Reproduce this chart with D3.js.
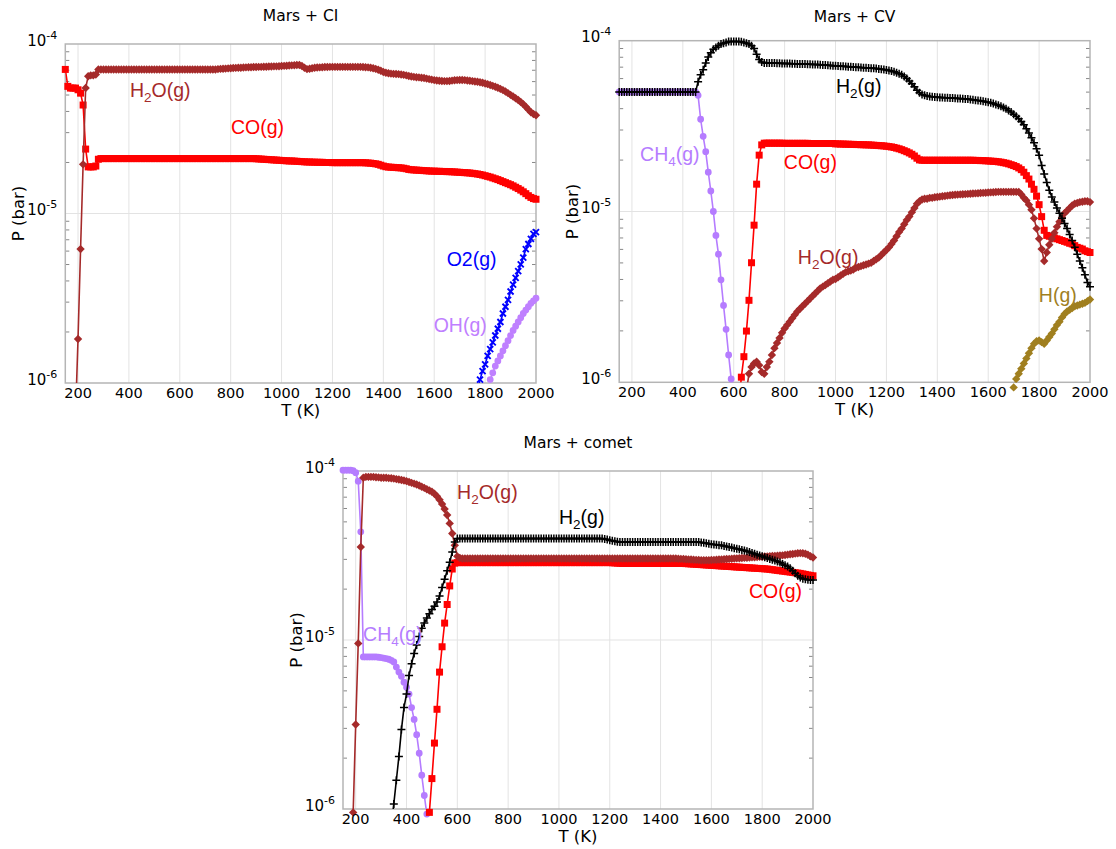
<!DOCTYPE html>
<html>
<head>
<meta charset="utf-8">
<script src="https://cdn.jsdelivr.net/npm/d3@7"></script>
<style>
    body { margin: 0; background: #fff; }
    svg { display: block; }
</style>
</head>
<body>
<div id="chart"></div>
<script>
// temperature grid (K)
var temps = [150, 160, 170, 180, 190,
    200, 210, 220, 230, 240, 250, 260, 270, 280, 290,
    300, 310, 320, 330, 340, 350, 360, 370, 380, 390,
    400, 410, 420, 430, 440, 450, 460, 470, 480, 490,
    500, 510, 520, 530, 540, 550, 560, 570, 580, 590,
    600, 610, 620, 630, 640, 650, 660, 670, 680, 690,
    700, 710, 720, 730, 740, 750, 760, 770, 780, 790,
    800, 810, 820, 830, 840, 850, 860, 870, 880, 890,
    900, 910, 920, 930, 940, 950, 960, 970, 980, 990,
    1000, 1010, 1020, 1030, 1040, 1050, 1060, 1070, 1080, 1090,
    1100, 1110, 1120, 1130, 1140, 1150, 1160, 1170, 1180, 1190,
    1200, 1210, 1220, 1230, 1240, 1250, 1260, 1270, 1280, 1290,
    1300, 1310, 1320, 1330, 1340, 1350, 1360, 1370, 1380, 1390,
    1400, 1410, 1420, 1430, 1440, 1450, 1460, 1470, 1480, 1490,
    1500, 1510, 1520, 1530, 1540, 1550, 1560, 1570, 1580, 1590,
    1600, 1610, 1620, 1630, 1640, 1650, 1660, 1670, 1680, 1690,
    1700, 1710, 1720, 1730, 1740, 1750, 1760, 1770, 1780, 1790,
    1800, 1810, 1820, 1830, 1840, 1850, 1860, 1870, 1880, 1890,
    1900, 1910, 1920, 1930, 1940, 1950, 1960, 1970, 1980, 1990,
    2000];

var xTicks = [200, 400, 600, 800, 1000, 1200, 1400, 1600, 1800, 2000];
var yTicks = [1e-6, 1e-5, 1e-4];
var yTickExp = ["-6", "-5", "-4"];

// all series are log10 P (bar), one value every 10 K from the start temperature

// ---- Mars + CI ----
var ciCOStart = 150;
var ciCO = [-4.15, -4.25, -4.26, -4.26, -4.26,
    -4.27, -4.29, -4.36, -4.62, -4.725, -4.725, -4.725, -4.72, -4.68, -4.676,
    -4.676, -4.676, -4.676, -4.676, -4.676, -4.676, -4.676, -4.676, -4.676, -4.676,
    -4.676, -4.676, -4.676, -4.676, -4.676, -4.676, -4.676, -4.676, -4.676, -4.676,
    -4.676, -4.676, -4.676, -4.676, -4.676, -4.676, -4.676, -4.676, -4.676, -4.676,
    -4.676, -4.676, -4.676, -4.676, -4.676, -4.676, -4.676, -4.676, -4.676, -4.676,
    -4.676, -4.676, -4.676, -4.676, -4.676, -4.676, -4.676, -4.676, -4.676, -4.676,
    -4.676, -4.676, -4.676, -4.676, -4.676, -4.676, -4.676, -4.676, -4.676, -4.676,
    -4.677, -4.678, -4.679, -4.68, -4.681, -4.682, -4.683, -4.684, -4.685, -4.686,
    -4.687, -4.688, -4.689, -4.69, -4.69, -4.691, -4.692, -4.693, -4.694, -4.695,
    -4.696, -4.696, -4.697, -4.697, -4.698, -4.698, -4.698, -4.699, -4.699, -4.699,
    -4.7, -4.7, -4.7, -4.7, -4.7, -4.7, -4.7, -4.7, -4.7, -4.7,
    -4.7, -4.7, -4.7, -4.701, -4.702, -4.703, -4.705, -4.707, -4.71, -4.715,
    -4.72, -4.724, -4.726, -4.727, -4.728, -4.729, -4.73, -4.731, -4.733, -4.736,
    -4.74, -4.742, -4.743, -4.744, -4.745, -4.746, -4.747, -4.748, -4.749, -4.75,
    -4.75, -4.751, -4.751, -4.752, -4.752, -4.753, -4.753, -4.754, -4.755, -4.756,
    -4.757, -4.758, -4.759, -4.76, -4.761, -4.763, -4.765, -4.767, -4.77, -4.773,
    -4.777, -4.781, -4.785, -4.79, -4.795, -4.8, -4.806, -4.812, -4.818, -4.824,
    -4.83, -4.837, -4.845, -4.853, -4.862, -4.872, -4.883, -4.895, -4.905, -4.912,
    -4.916];

var ciH2OStart = 190;
var ciH2O = [-6.2,
    -5.74, -5.21, -4.71, -4.26, -4.19, -4.185, -4.185, -4.18, -4.15, -4.15,
    -4.15, -4.15, -4.15, -4.15, -4.15, -4.15, -4.15, -4.15, -4.15, -4.15,
    -4.15, -4.15, -4.15, -4.15, -4.15, -4.15, -4.15, -4.15, -4.15, -4.15,
    -4.15, -4.15, -4.15, -4.15, -4.15, -4.15, -4.15, -4.15, -4.15, -4.15,
    -4.15, -4.15, -4.15, -4.15, -4.15, -4.15, -4.15, -4.15, -4.15, -4.15,
    -4.15, -4.15, -4.15, -4.15, -4.15, -4.148, -4.147, -4.146, -4.145, -4.144,
    -4.143, -4.142, -4.141, -4.14, -4.14, -4.139, -4.138, -4.137, -4.137, -4.136,
    -4.136, -4.135, -4.135, -4.134, -4.134, -4.133, -4.133, -4.132, -4.132, -4.131,
    -4.13, -4.129, -4.128, -4.127, -4.126, -4.125, -4.124, -4.124, -4.13, -4.14,
    -4.148, -4.146, -4.143, -4.14, -4.139, -4.138, -4.137, -4.136, -4.136, -4.135,
    -4.135, -4.135, -4.135, -4.135, -4.135, -4.135, -4.135, -4.135, -4.135, -4.135,
    -4.135, -4.135, -4.136, -4.137, -4.138, -4.14, -4.143, -4.147, -4.152, -4.158,
    -4.165, -4.17, -4.173, -4.175, -4.176, -4.177, -4.178, -4.18, -4.182, -4.185,
    -4.189, -4.192, -4.194, -4.196, -4.197, -4.199, -4.201, -4.204, -4.207, -4.21,
    -4.213, -4.215, -4.217, -4.218, -4.219, -4.219, -4.218, -4.216, -4.214, -4.213,
    -4.212, -4.212, -4.213, -4.215, -4.217, -4.219, -4.221, -4.223, -4.226, -4.229,
    -4.233, -4.237, -4.242, -4.247, -4.252, -4.258, -4.265, -4.272, -4.28, -4.29,
    -4.3, -4.31, -4.32, -4.33, -4.342, -4.355, -4.37, -4.387, -4.403, -4.413,
    -4.42];

var ciO2Start = 1770;
var ciO2 = [-6.05, -5.98, -5.93, -5.89, -5.84, -5.8, -5.76, -5.72, -5.68, -5.64,
    -5.59, -5.55, -5.51, -5.46, -5.42, -5.38, -5.34, -5.3, -5.26, -5.21,
    -5.18, -5.15, -5.12, -5.11];

var ciOHStart = 1820;
var ciOH = [-5.98, -5.94, -5.9, -5.87, -5.84, -5.81, -5.78, -5.75, -5.72, -5.69,
    -5.665, -5.64, -5.615, -5.59, -5.57, -5.55, -5.53, -5.515, -5.5];

// ---- Mars + CV ----
var cvCH4Start = 150;
var cvCH4 = [-4.3, -4.3, -4.3, -4.3, -4.3,
    -4.3, -4.3, -4.3, -4.3, -4.3, -4.3, -4.3, -4.3, -4.3, -4.3,
    -4.3, -4.3, -4.3, -4.3, -4.3, -4.3, -4.3, -4.3, -4.3, -4.3,
    -4.3, -4.3, -4.3, -4.3, -4.3, -4.3, -4.32, -4.46, -4.56, -4.65,
    -4.77, -4.88, -5.0, -5.14, -5.25, -5.4, -5.55, -5.69, -5.84, -5.98,
    -6.12];

var cvCOStart = 620;
var cvCO = [-6.13, -5.97, -5.85, -5.7, -5.52, -5.3, -5.08, -4.84,
    -4.67, -4.61, -4.6, -4.6, -4.6, -4.6, -4.6, -4.6, -4.6, -4.6,
    -4.601, -4.601, -4.601, -4.601, -4.601, -4.601, -4.601, -4.601, -4.601, -4.601,
    -4.602, -4.602, -4.602, -4.602, -4.602, -4.602, -4.602, -4.602, -4.602, -4.602,
    -4.604, -4.604, -4.605, -4.605, -4.606, -4.606, -4.607, -4.607, -4.608, -4.608,
    -4.609, -4.609, -4.61, -4.61, -4.611, -4.612, -4.613, -4.614, -4.615, -4.616,
    -4.618, -4.62, -4.622, -4.625, -4.629, -4.633, -4.638, -4.644, -4.65, -4.657,
    -4.665, -4.675, -4.688, -4.698, -4.7, -4.7, -4.7, -4.7, -4.7, -4.7,
    -4.7, -4.7, -4.7, -4.7, -4.7, -4.7, -4.7, -4.7, -4.7, -4.7,
    -4.7, -4.7, -4.7, -4.7, -4.7, -4.701, -4.701, -4.702, -4.702, -4.703,
    -4.704, -4.705, -4.706, -4.707, -4.709, -4.711, -4.714, -4.717, -4.721, -4.726,
    -4.731, -4.737, -4.745, -4.755, -4.77, -4.79, -4.81, -4.84, -4.87, -4.91,
    -4.96, -5.03, -5.11, -5.14, -5.145, -5.15, -5.155, -5.16, -5.165, -5.17,
    -5.175, -5.18, -5.186, -5.19, -5.2, -5.21, -5.215, -5.22, -5.23, -5.235,
    -5.24];

var cvH2OStart = 650;
var cvH2O = [-6.05, -5.95, -5.91, -5.89, -5.88,
    -5.9, -5.94, -5.95, -5.91, -5.88, -5.84, -5.8, -5.77, -5.74, -5.71,
    -5.685, -5.665, -5.645, -5.625, -5.605, -5.585, -5.57, -5.555, -5.54, -5.525,
    -5.51, -5.495, -5.48, -5.465, -5.45, -5.44, -5.43, -5.42, -5.41, -5.4,
    -5.395, -5.385, -5.375, -5.365, -5.355, -5.35, -5.345, -5.34, -5.33, -5.325,
    -5.32, -5.315, -5.31, -5.305, -5.3, -5.29, -5.28, -5.27, -5.255, -5.24,
    -5.225, -5.21, -5.19, -5.17, -5.145, -5.12, -5.1, -5.075, -5.05, -5.03,
    -5.005, -4.98, -4.955, -4.94, -4.93, -4.925, -4.925, -4.92, -4.92, -4.917,
    -4.915, -4.913, -4.911, -4.909, -4.907, -4.905, -4.903, -4.902, -4.901, -4.9,
    -4.899, -4.898, -4.897, -4.896, -4.895, -4.894, -4.893, -4.892, -4.891, -4.89,
    -4.889, -4.888, -4.887, -4.886, -4.885, -4.885, -4.885, -4.885, -4.885, -4.885,
    -4.885, -4.885, -4.885, -4.9, -4.92, -4.935, -4.96, -4.99, -5.04, -5.1,
    -5.16, -5.22, -5.29, -5.24, -5.195, -5.16, -5.125, -5.09, -5.06, -5.035,
    -5.01, -4.995, -4.98, -4.965, -4.955, -4.95, -4.945, -4.943, -4.94, -4.94,
    -4.945];

var cvH2Start = 150;
var cvH2 = [-4.3, -4.3, -4.3, -4.3, -4.3,
    -4.3, -4.3, -4.3, -4.3, -4.3, -4.3, -4.3, -4.3, -4.3, -4.3,
    -4.3, -4.3, -4.3, -4.3, -4.3, -4.3, -4.3, -4.3, -4.3, -4.3,
    -4.3, -4.3, -4.3, -4.3, -4.3, -4.3, -4.24, -4.2, -4.17, -4.13,
    -4.095, -4.07, -4.05, -4.04, -4.03, -4.02, -4.015, -4.01, -4.005, -4.005,
    -4.004, -4.004, -4.005, -4.006, -4.01, -4.015, -4.02, -4.03, -4.045, -4.08,
    -4.11, -4.125, -4.13, -4.13, -4.13, -4.131, -4.131, -4.132, -4.132, -4.133,
    -4.133, -4.134, -4.134, -4.135, -4.135, -4.136, -4.136, -4.137, -4.137, -4.138,
    -4.138, -4.139, -4.139, -4.14, -4.141, -4.142, -4.143, -4.144, -4.145, -4.146,
    -4.147, -4.148, -4.149, -4.15, -4.151, -4.152, -4.153, -4.154, -4.155, -4.156,
    -4.157, -4.158, -4.159, -4.16, -4.161, -4.162, -4.163, -4.165, -4.167, -4.169,
    -4.172, -4.175, -4.178, -4.182, -4.187, -4.193, -4.2, -4.21, -4.222, -4.236,
    -4.252, -4.27, -4.29, -4.305, -4.315, -4.32, -4.324, -4.326, -4.328, -4.33,
    -4.331, -4.332, -4.333, -4.334, -4.334, -4.335, -4.336, -4.337, -4.338, -4.339,
    -4.34, -4.341, -4.342, -4.344, -4.346, -4.348, -4.35, -4.352, -4.354, -4.357,
    -4.36, -4.364, -4.368, -4.373, -4.378, -4.384, -4.391, -4.399, -4.408, -4.418,
    -4.43, -4.443, -4.457, -4.473, -4.492, -4.515, -4.54, -4.568, -4.598, -4.632,
    -4.67, -4.73, -4.78, -4.83, -4.875, -4.915, -4.945, -4.98, -5.01, -5.04,
    -5.07, -5.1, -5.135, -5.17, -5.21, -5.25, -5.29, -5.33, -5.37, -5.415,
    -5.44];

var cvHStart = 1700;
var cvH = [-6.03, -5.98, -5.95, -5.92, -5.89, -5.86, -5.83, -5.8, -5.775, -5.76,
    -5.755, -5.765, -5.775, -5.755, -5.735, -5.715, -5.69, -5.665, -5.645, -5.62,
    -5.6, -5.585, -5.575, -5.565, -5.555, -5.55, -5.545, -5.54, -5.535, -5.525,
    -5.515];

// ---- Mars + comet ----
var coCH4Start = 150;
var coCH4 = [-3.995, -3.995, -3.995, -3.995, -3.998,
    -4.01, -4.06, -4.36, -5.1, -5.1, -5.1, -5.1, -5.1, -5.1, -5.102,
    -5.104, -5.107, -5.11, -5.114, -5.12, -5.13, -5.16, -5.19, -5.215, -5.25,
    -5.28, -5.32, -5.4, -5.47, -5.56, -5.67, -5.8, -5.92, -6.03];

var coCOStart = 480;
var coCO = [-6.2, -6.02,
    -5.82, -5.61, -5.41, -5.19, -5.04, -4.9, -4.79, -4.68, -4.58, -4.545,
    -4.542, -4.542, -4.542, -4.542, -4.542, -4.542, -4.542, -4.542, -4.542, -4.542,
    -4.542, -4.542, -4.542, -4.542, -4.542, -4.542, -4.542, -4.542, -4.542, -4.542,
    -4.542, -4.542, -4.542, -4.542, -4.542, -4.542, -4.542, -4.542, -4.542, -4.542,
    -4.542, -4.542, -4.542, -4.542, -4.542, -4.542, -4.542, -4.542, -4.542, -4.542,
    -4.542, -4.542, -4.542, -4.542, -4.542, -4.542, -4.542, -4.542, -4.542, -4.542,
    -4.542, -4.542, -4.542, -4.542, -4.542, -4.542, -4.542, -4.542, -4.542, -4.542,
    -4.542, -4.543, -4.544, -4.545, -4.546, -4.547, -4.547, -4.547, -4.547, -4.547,
    -4.547, -4.547, -4.547, -4.547, -4.547, -4.547, -4.547, -4.547, -4.547, -4.547,
    -4.547, -4.547, -4.547, -4.547, -4.547, -4.547, -4.547, -4.547, -4.547, -4.547,
    -4.548, -4.549, -4.55, -4.551, -4.552, -4.553, -4.554, -4.555, -4.556, -4.557,
    -4.558, -4.559, -4.56, -4.561, -4.562, -4.563, -4.564, -4.565, -4.566, -4.567,
    -4.568, -4.569, -4.57, -4.571, -4.572, -4.573, -4.574, -4.575, -4.576, -4.577,
    -4.578, -4.579, -4.58, -4.582, -4.584, -4.586, -4.588, -4.59, -4.592, -4.594,
    -4.596, -4.598, -4.6, -4.602, -4.604, -4.606, -4.609, -4.612, -4.615, -4.618,
    -4.62];

var coH2OStart = 190;
var coH2O = [-6.02,
    -5.5, -5.02, -4.45, -4.04, -4.035, -4.035, -4.035, -4.035, -4.037, -4.038,
    -4.04, -4.04, -4.04, -4.042, -4.043, -4.045, -4.048, -4.05, -4.053, -4.056,
    -4.06, -4.065, -4.07, -4.075, -4.08, -4.086, -4.093, -4.1, -4.108, -4.115,
    -4.123, -4.135, -4.15, -4.17, -4.195, -4.225, -4.26, -4.31, -4.37, -4.44,
    -4.505, -4.515, -4.518, -4.518, -4.518, -4.518, -4.518, -4.518, -4.518, -4.518,
    -4.518, -4.518, -4.518, -4.518, -4.518, -4.518, -4.518, -4.518, -4.518, -4.518,
    -4.518, -4.518, -4.518, -4.518, -4.518, -4.518, -4.518, -4.518, -4.518, -4.518,
    -4.518, -4.518, -4.518, -4.518, -4.518, -4.518, -4.518, -4.518, -4.518, -4.518,
    -4.518, -4.518, -4.518, -4.518, -4.518, -4.518, -4.518, -4.518, -4.518, -4.518,
    -4.518, -4.518, -4.518, -4.518, -4.518, -4.518, -4.518, -4.518, -4.518, -4.518,
    -4.518, -4.518, -4.518, -4.518, -4.518, -4.518, -4.518, -4.518, -4.518, -4.518,
    -4.518, -4.518, -4.518, -4.518, -4.518, -4.518, -4.518, -4.518, -4.518, -4.518,
    -4.518, -4.518, -4.518, -4.518, -4.518, -4.518, -4.518, -4.519, -4.52, -4.521,
    -4.522, -4.523, -4.524, -4.525, -4.526, -4.527, -4.528, -4.528, -4.528, -4.528,
    -4.527, -4.526, -4.525, -4.524, -4.523, -4.522, -4.521, -4.52, -4.519, -4.518,
    -4.517, -4.516, -4.515, -4.514, -4.513, -4.512, -4.511, -4.51, -4.509, -4.508,
    -4.507, -4.506, -4.505, -4.504, -4.503, -4.502, -4.501, -4.5, -4.499, -4.497,
    -4.495, -4.493, -4.491, -4.489, -4.487, -4.486, -4.487, -4.49, -4.496, -4.504,
    -4.512];

var coH2Start = 340;
var coH2 = [-6.1, -5.97, -5.83, -5.69, -5.53, -5.4,
    -5.32, -5.21, -5.14, -5.08, -5.03, -4.98, -4.93, -4.9, -4.87, -4.845,
    -4.82, -4.8, -4.775, -4.74, -4.69, -4.64, -4.59, -4.54, -4.48, -4.42,
    -4.4, -4.4, -4.4, -4.4, -4.4, -4.4, -4.4, -4.4, -4.4, -4.4,
    -4.4, -4.4, -4.4, -4.4, -4.4, -4.4, -4.4, -4.4, -4.4, -4.4,
    -4.4, -4.4, -4.4, -4.4, -4.4, -4.4, -4.4, -4.4, -4.4, -4.4,
    -4.4, -4.4, -4.4, -4.4, -4.4, -4.4, -4.4, -4.4, -4.4, -4.4,
    -4.4, -4.4, -4.4, -4.4, -4.4, -4.4, -4.4, -4.4, -4.4, -4.4,
    -4.4, -4.4, -4.4, -4.4, -4.4, -4.4, -4.4, -4.4, -4.402, -4.405,
    -4.41, -4.413, -4.415, -4.418, -4.42, -4.42, -4.42, -4.42, -4.42, -4.42,
    -4.42, -4.42, -4.42, -4.42, -4.42, -4.42, -4.42, -4.42, -4.42, -4.42,
    -4.42, -4.42, -4.42, -4.42, -4.42, -4.42, -4.42, -4.42, -4.42, -4.42,
    -4.42, -4.42, -4.42, -4.42, -4.42, -4.42, -4.423, -4.425, -4.427, -4.43,
    -4.433, -4.435, -4.437, -4.439, -4.44, -4.444, -4.447, -4.45, -4.453, -4.457,
    -4.46, -4.463, -4.467, -4.471, -4.475, -4.48, -4.485, -4.49, -4.495, -4.5,
    -4.505, -4.51, -4.515, -4.52, -4.525, -4.53, -4.535, -4.542, -4.55, -4.557,
    -4.565, -4.575, -4.59, -4.605, -4.62, -4.63, -4.637, -4.64, -4.643, -4.645,
    -4.645];

// curve labels: text parts (odd parts are subscripts), anchor T (K), anchor log10 P
var ciLabelText = [["H", "2", "O(g)"], ["CO(g)"], ["O2(g)"], ["OH(g)"]];
var ciLabelT = [404, 801, 1649, 1598];
var ciLabelP = [-4.313, -4.531, -5.31, -5.7];

var cvLabelText = [["H", "2", "(g)"], ["CH", "4", "(g)"], ["CO(g)"], ["H", "2", "O(g)"], ["H(g)"]];
var cvLabelT = [1002, 232, 797, 852, 1799];
var cvLabelP = [-4.309, -4.704, -4.751, -5.307, -5.53];

var coLabelText = [["H", "2", "O(g)"], ["H", "2", "(g)"], ["CH", "4", "(g)"], ["CO(g)"]];
var coLabelT = [599, 1000, 229, 1748];
var coLabelP = [-4.166, -4.314, -5.006, -4.751];

// styles per species
var styles = {
    H2O: {color: "#a52a2a", marker: "diamond"},
    CO: {color: "#ff0000", marker: "square"},
    O2: {color: "#0000ff", marker: "cross"},
    OH: {color: "#bf80ff", marker: "circle"},
    CH4: {color: "#b57cff", marker: "circle"},
    H2: {color: "#000000", marker: "plus"},
    H: {color: "#a07f1f", marker: "diamond"}
};
var labelColors = {
    ci: ["H2O", "CO", "O2", "OH"],
    cv: ["H2", "CH4", "CO", "H2O", "H"],
    co: ["H2O", "H2", "CH4", "CO"]
};

function toPoints(start, values) {
    var i0 = temps.indexOf(start);
    return values.map(function (v, i) {
        return {t: temps[i0 + i], p: Math.pow(10, v)};
    });
}

var panels = [
    {id: "ci", title: "Mars + CI", left: 65.3, top: 44, width: 470.7, height: 339, titleY: 21,
        series: [["CO", ciCOStart, ciCO], ["H2O", ciH2OStart, ciH2O],
                 ["O2", ciO2Start, ciO2], ["OH", ciOHStart, ciOH]],
        labels: [ciLabelText, ciLabelT, ciLabelP]},
    {id: "cv", title: "Mars + CV", left: 619.2, top: 40.7, width: 470.8, height: 341.6, titleY: 21.5,
        series: [["CH4", cvCH4Start, cvCH4], ["CO", cvCOStart, cvCO], ["H2O", cvH2OStart, cvH2O],
                 ["H2", cvH2Start, cvH2], ["H", cvHStart, cvH]],
        labels: [cvLabelText, cvLabelT, cvLabelP]},
    {id: "co", title: "Mars + comet", left: 343, top: 471, width: 470, height: 338, titleY: 448,
        series: [["CH4", coCH4Start, coCH4], ["CO", coCOStart, coCO], ["H2O", coH2OStart, coH2O],
                 ["H2", coH2Start, coH2]],
        labels: [coLabelText, coLabelT, coLabelP]}
];

function markerPath(type) {
    if (type === "square") return "M-3.5,-3.5h7v7h-7z";
    if (type === "diamond") return "M0,-4.2L4.2,0L0,4.2L-4.2,0z";
    if (type === "circle") return "M3.4,0A3.4,3.4 0 1,1 -3.4,0A3.4,3.4 0 1,1 3.4,0z";
    if (type === "plus") return "M-4,0H4M0,-4V4";
    if (type === "cross") return "M-3,-3L3,3M-3,3L3,-3";
    return "";
}

var svg = d3.select("#chart").append("svg")
    .attr("width", 1116)
    .attr("height", 849);

panels.forEach(function (pn) {
    var x = d3.scaleLinear().domain([150, 2000]).range([0, pn.width]);
    var y = d3.scaleLog().domain([1e-6, 1e-4]).range([pn.height, 0]);

    var g = svg.append("g").attr("transform", "translate(" + pn.left + "," + pn.top + ")");

    g.append("clipPath").attr("id", "clip-" + pn.id)
        .append("rect").attr("width", pn.width).attr("height", pn.height);

    //grid
    g.selectAll("line.vgrid").data(xTicks.slice(0, -1)).join("line")
        .attr("class", "vgrid")
        .attr("x1", function (d) { return x(d); }).attr("x2", function (d) { return x(d); })
        .attr("y1", 0).attr("y2", pn.height)
        .attr("stroke", "#e3e3e3").attr("stroke-width", 1);
    g.append("line")
        .attr("x1", 0).attr("x2", pn.width)
        .attr("y1", y(1e-5)).attr("y2", y(1e-5))
        .attr("stroke", "#e3e3e3").attr("stroke-width", 1);

    //minor ticks, inside on both sides
    var minor = y.ticks().filter(function (d) { return yTicks.indexOf(d) === -1; });
    [0, pn.width].forEach(function (edge, k) {
        g.selectAll("line.mt" + k).data(minor).join("line")
            .attr("class", "mt" + k)
            .attr("x1", edge).attr("x2", k === 0 ? edge + 4 : edge - 4)
            .attr("y1", function (d) { return y(d); }).attr("y2", function (d) { return y(d); })
            .attr("stroke", "#888").attr("stroke-width", 1);
    });

    g.append("rect")
        .attr("width", pn.width).attr("height", pn.height)
        .attr("fill", "none").attr("stroke", "#b5b5b5").attr("stroke-width", 1.5);

    //curves
    pn.series.forEach(function (s) {
        var st = styles[s[0]];
        var pts = toPoints(s[1], s[2]);
        var line = d3.line()
            .x(function (d) { return x(d.t); })
            .y(function (d) { return y(d.p); });
        g.append("path")
            .attr("clip-path", "url(#clip-" + pn.id + ")")
            .attr("d", line(pts))
            .attr("fill", "none")
            .attr("stroke", st.color)
            .attr("stroke-width", 1.6);
        var vis = pts.filter(function (d) { return d.p >= 0.93e-6 && d.p <= 1.08e-4; });
        var stroked = st.marker === "plus" || st.marker === "cross";
        g.append("g").selectAll("path").data(vis).join("path")
            .attr("transform", function (d) { return "translate(" + x(d.t) + "," + y(d.p) + ")"; })
            .attr("d", markerPath(st.marker))
            .attr("fill", stroked ? "none" : st.color)
            .attr("stroke", stroked ? st.color : "none")
            .attr("stroke-width", st.marker === "cross" ? 1.9 : 1.5);
    });

    //tick labels
    g.selectAll("text.xt").data(xTicks).join("text")
        .attr("class", "xt")
        .attr("x", function (d) { return x(d); })
        .attr("y", pn.height + 14.5)
        .attr("text-anchor", "middle")
        .style("font-family", "DejaVu Sans, sans-serif")
        .style("font-size", "14.5px")
        .text(function (d) { return d; });

    yTicks.forEach(function (d, i) {
        var t = g.append("text")
            .attr("x", -8)
            .attr("y", y(d) + 1.5)
            .attr("text-anchor", "end")
            .style("font-family", "DejaVu Sans, sans-serif")
            .style("font-size", "15px");
        t.append("tspan").text("10");
        t.append("tspan").attr("dy", -7).style("font-size", "11px").text(yTickExp[i]);
    });

    //axis titles
    g.append("text")
        .attr("x", pn.width / 2)
        .attr("y", pn.height + 33)
        .attr("text-anchor", "middle")
        .style("font-family", "DejaVu Sans, sans-serif")
        .style("font-size", "16.5px")
        .text("T (K)");
    g.append("text")
        .attr("transform", "translate(-41," + (pn.height / 2) + ") rotate(-90)")
        .attr("text-anchor", "middle")
        .style("font-family", "DejaVu Sans, sans-serif")
        .style("font-size", "16.5px")
        .text("P (bar)");

    g.append("text")
        .attr("x", pn.width / 2)
        .attr("y", pn.titleY - pn.top)
        .attr("text-anchor", "middle")
        .style("font-family", "DejaVu Sans, sans-serif")
        .style("font-size", "15.5px")
        .text(pn.title);

    //curve labels
    var texts = pn.labels[0], lt = pn.labels[1], lp = pn.labels[2];
    texts.forEach(function (parts, i) {
        var col = styles[labelColors[pn.id][i]].color;
        var t = g.append("text")
            .attr("x", x(lt[i]))
            .attr("y", y(Math.pow(10, lp[i])))
            .attr("fill", col)
            .style("font-family", "Liberation Sans, Arial, sans-serif")
            .style("font-size", "19.5px");
        parts.forEach(function (p, j) {
            var ts = t.append("tspan").text(p);
            if (j % 2 === 1) {
                ts.attr("dy", 5).style("font-size", "13.5px");
            } else if (j > 0) {
                ts.attr("dy", -5);
            }
        });
    });
});
</script>
</body>
</html>
